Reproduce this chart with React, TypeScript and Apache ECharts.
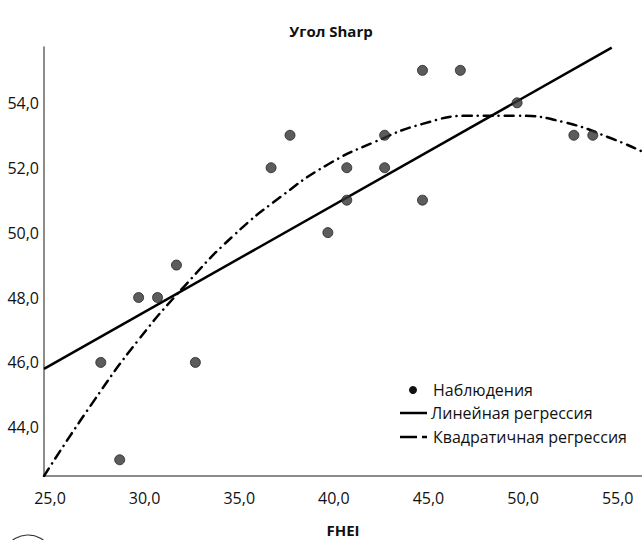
import React, { useEffect, useRef } from "react";
import * as echarts from "echarts";

const xTicks = [25, 30, 35, 40, 45, 50, 55];
const yTicks = [44, 46, 48, 50, 52, 54];

const obsX = [28, 29, 30, 31, 32, 33, 37, 38, 40, 41, 41, 43, 43, 45, 45, 47, 50, 53, 54];
const obsY = [46, 43, 48, 48, 49, 46, 52, 53, 50, 52, 51, 53, 52, 55, 51, 55, 54, 53, 53];

const linX = [25, 55];
const linY = [45.8, 55.7];

const quadX = [25, 27.5, 30, 32.5, 35, 37.5, 40, 42.5, 45, 47.5, 50, 52.5, 55, 56.6];
const quadY = [42.5, 44.7, 46.7, 48.4, 49.9, 51.1, 52.1, 52.8, 53.35, 53.6, 53.6, 53.4, 52.9, 52.5];

const FONT = "'Open Sans', 'Noto Sans', sans-serif";
const fmt = (v: number) => v.toFixed(1).replace(".", ",");

export default function App() {
  const ref = useRef<HTMLDivElement>(null);
  useEffect(() => {
    if (!ref.current) return;
    const chart = echarts.init(ref.current, null, { renderer: "svg" });
    chart.setOption({
      animation: false,
      backgroundColor: "#ffffff",
      title: {
        text: "Угол Sharp",
        left: 326,
        top: 18,
        textAlign: "center",
        textStyle: { fontFamily: FONT, fontWeight: "bold", fontSize: 15, color: "#111" },
      },
      grid: { left: 44, right: 0, top: 47, bottom: 64, outerBoundsMode: "none" },
      xAxis: {
        type: "value",
        min: 25,
        max: 56.6,
        name: "FHEI",
        nameLocation: "middle",
        nameGap: 46,
        nameTextStyle: { fontFamily: FONT, fontWeight: "bold", fontSize: 15, color: "#111" },
        axisLine: { show: true, lineStyle: { color: "#666", width: 1.5 } },
        axisTick: { show: false },
        splitLine: { show: false },
        axisLabel: {
          customValues: xTicks,
          formatter: fmt,
          margin: 14,
          padding: [0, 0, 0, 12],
          fontFamily: FONT,
          fontSize: 16,
          color: "#111",
        },
      },
      yAxis: {
        type: "value",
        min: 42.5,
        max: 55.72,
        axisLine: { show: true, lineStyle: { color: "#666", width: 1.5 } },
        axisTick: { show: false },
        splitLine: { show: false },
        axisLabel: {
          customValues: yTicks,
          formatter: fmt,
          margin: 5,
          fontFamily: FONT,
          fontSize: 16,
          color: "#111",
        },
      },
      series: [
        {
          name: "Наблюдения",
          type: "scatter",
          data: obsX.map((x, i) => [x, obsY[i]]),
          symbolSize: 10,
          itemStyle: { color: "#333", borderColor: "#222", borderWidth: 1 },
          z: 3,
        },
        {
          name: "Линейная регрессия",
          type: "line",
          data: linX.map((x, i) => [x, linY[i]]),
          showSymbol: false,
          lineStyle: { color: "#000", width: 2.5 },
          z: 2,
        },
        {
          name: "Квадратичная регрессия",
          type: "line",
          smooth: true,
          data: quadX.map((x, i) => [x, quadY[i]]),
          showSymbol: false,
          lineStyle: { color: "#000", width: 2.5, type: [9, 6, 0.1, 6], cap: "round" },
          z: 2,
        },
      ],
      graphic: [
        { type: "circle", shape: { cx: 413, cy: 390, r: 4 }, style: { fill: "#111" } },
        {
          type: "text",
          x: 433,
          y: 390,
          style: { text: "Наблюдения", font: `16px ${FONT}`, fill: "#111", textVerticalAlign: "middle" },
        },
        { type: "line", shape: { x1: 400, y1: 413, x2: 427, y2: 413 }, style: { stroke: "#000", lineWidth: 2.5 } },
        {
          type: "text",
          x: 431,
          y: 413,
          style: { text: "Линейная регрессия", font: `16px ${FONT}`, fill: "#111", textVerticalAlign: "middle" },
        },
        { type: "line", shape: { x1: 400, y1: 437, x2: 417, y2: 437 }, style: { stroke: "#000", lineWidth: 2.5 } },
        { type: "line", shape: { x1: 422, y1: 437, x2: 427, y2: 437 }, style: { stroke: "#000", lineWidth: 2.5 } },
        {
          type: "text",
          x: 433,
          y: 437,
          style: { text: "Квадратичная регрессия", font: `16px ${FONT}`, fill: "#111", textVerticalAlign: "middle" },
        },
        { type: "circle", shape: { cx: 28, cy: 560, r: 25 }, style: { fill: "none", stroke: "#333", lineWidth: 1.2 } },
      ],
    });
    return () => chart.dispose();
  }, []);
  return <div ref={ref} style={{ position: "fixed", left: 0, top: 0, width: 642, height: 540 }} />;
}
